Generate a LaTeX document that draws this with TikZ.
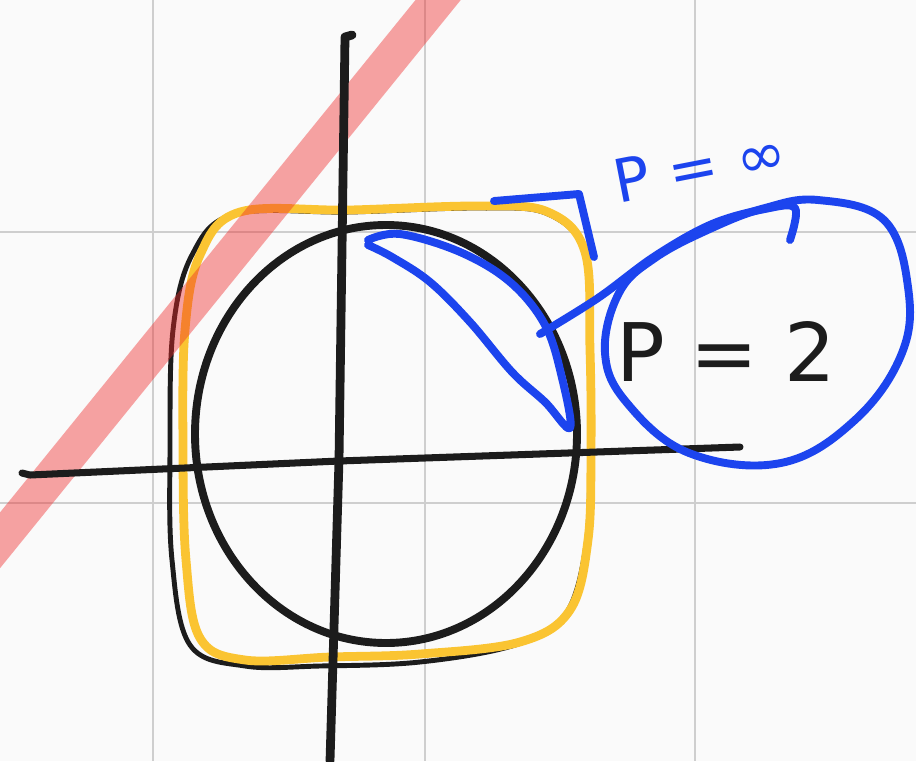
\documentclass[tikz,border=0pt]{standalone}
\usepackage{fontspec}
\setmainfont{DejaVu Sans}
\usepackage{tikz}
\usetikzlibrary{calc}
\definecolor{penblack}{RGB}{28,28,28}
\definecolor{penyellow}{RGB}{250,196,50}
\definecolor{penblue}{RGB}{28,68,238}
\definecolor{penred}{RGB}{240,40,40}
\definecolor{gridgray}{RGB}{206,206,206}

\begin{document}
\begin{tikzpicture}[x=0.02cm,y=-0.02cm,
  gridline/.style={gridgray,line width=1.4pt},
  ink/.style={line width=4.5pt,line cap=round,line join=round},
  penlabel/.style={inner sep=0pt,font=\fontsize{34}{40}\selectfont}]
  \clip (0,0) rectangle (916,761);
  \fill[white!98!black] (0,0) rectangle (916,761);

  % grid
  \foreach \gx in {153,425,695} \draw[gridline] (\gx,0) -- (\gx,761);
  \foreach \gy in {232,503} \draw[gridline] (0,\gy) -- (916,\gy);

  % unit balls
  \draw[ink,penblack,line width=2.8pt] plot[smooth cycle,tension=0.6] coordinates
    {(235,214) (350,212) (480,208) (548,214) (586,255) (590,350) (590,450)
     (586,545) (565,615) (515,645) (420,662) (320,666) (245,666) (190,645)
     (172,560) (170,450) (173,330) (192,255)};
  \draw[ink,penyellow,line width=5pt] plot[smooth cycle,tension=0.6] coordinates
    {(240,212) (350,210) (480,206) (548,212) (585,252) (590,350) (591,450)
     (588,540) (570,610) (520,642) (420,654) (330,657) (245,660) (200,638)
     (186,560) (183,450) (185,330) (200,255)};
  \draw[penred,opacity=0.42,line width=20pt] (460,-27) -- (-20,565);
  \draw[ink,penblack] (386,434) ellipse [x radius=191,y radius=209];

  % axes
  \draw[ink,penblack,line width=5pt] (352,35) -- (345,37) -- (339,460) -- (330,761);
  \draw[ink,penblack,line width=4pt] (22,473) -- (30,475) -- (339,461) -- (740,447);

  % highlighted arc and labels
  \draw[ink,penblue] plot[smooth,tension=0.6] coordinates
    {(368,240) (400,234) (460,252) (510,282) (545,325) (562,378) (570,428)
     (545,402) (512,372) (470,322) (430,282) (392,257) (368,245)};
  \draw[ink,penblue] (494,201) -- (579,194) -- (594,257);
  \draw[ink,penblue] plot[smooth,tension=0.6] coordinates
    {(540,334) (598,298) (655,256) (712,224) (765,209) (795,208) (790,240)};
  \draw[ink,penblue] plot[smooth cycle,tension=0.65] coordinates
    {(818,200) (884,220) (908,287) (902,353) (855,420) (781,463) (689,453)
     (627,403) (605,353) (619,293) (655,258) (712,228) (765,208)};

  \node[penlabel,penblue,rotate=11] (pinf) at (700,166) {P = ∞};
  \node[penlabel,penblack,font=\fontsize{46}{52}\selectfont] (ptwo) at (726,352) {P = 2};
\end{tikzpicture}
\end{document}
